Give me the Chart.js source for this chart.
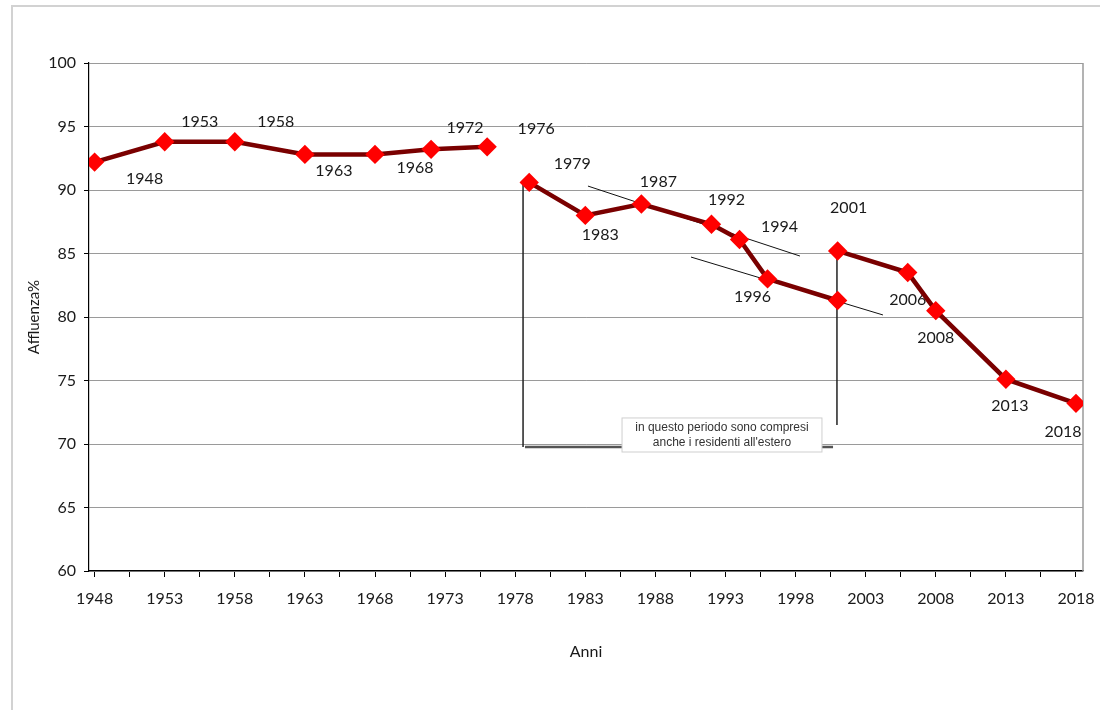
<!DOCTYPE html>
<html>
<head>
<meta charset="utf-8">
<script src="https://cdn.jsdelivr.net/npm/chart.js@4.4.1/dist/chart.umd.min.js"></script>
<style>
  html, body { margin: 0; padding: 0; background: #fff; }
  #wrap { position: relative; width: 1100px; height: 710px; overflow: hidden; }
  #frame { position: absolute; left: 11px; top: 5px; width: 1100px; height: 720px;
           border-top: 2px solid #d2d2d2; border-left: 2px solid #d2d2d2; }
  canvas { position: absolute; left: 0; top: 0; }
</style>
</head>
<body>
<div id="wrap">
  <div id="frame"></div>
  <canvas id="chart" width="1100" height="710"></canvas>
</div>
<script>
// affluenza alle elezioni politiche (Camera), in %
const years1 = [1948, 1953, 1958, 1963, 1968, 1972, 1976]
const turnout1 = [92.2, 93.8, 93.8, 92.8, 92.8, 93.2, 93.4]

const years2 = [1979, 1983, 1987, 1992, 1994, 1996, 2001]
const turnout2 = [90.6, 88.0, 88.9, 87.3, 86.1, 83.0, 81.3]

const years3 = [2001, 2006, 2008, 2013, 2018]
const turnout3 = [85.2, 83.5, 80.5, 75.1, 73.2]

const xTickYears = [1948, 1953, 1958, 1963, 1968, 1973, 1978, 1983, 1988, 1993, 1998, 2003, 2008, 2013, 2018]
const yTickValues = [60, 65, 70, 75, 80, 85, 90, 95, 100]

// label offsets in px for each point (null = no label)
const labelOffsets1 = [[50, 17], [35, -20], [41, -20], [29, 16], [40, 13], [34, -22], [49, -18]]
const labelOffsets2 = [[43, -19], [15, 19], [17, -22], [15, -24], [40, -13], [-15, 18], null]
const labelOffsets3 = [[11, -43], [0, 27], [0, 27], [4, 27], [-13, 28]]

// guide lines drawn on the plot (data units)
const guideLines = [
  { from: [1978.56, 90.4], to: [1978.56, 69.76], width: 1.5, color: "#222" },
  { from: [1978.7, 69.76], to: [2000.67, 69.76], width: 2.5, color: "#555" },
  { from: [2000.95, 84.65], to: [2000.95, 71.5], width: 1.5, color: "#222" },
  { from: [1983.19, 90.31], to: [1998.31, 84.8], width: 1, color: "#111" },
  { from: [1990.54, 84.72], to: [2004.23, 80.16], width: 1, color: "#111" },
]
const noteBox = { x1: 1985.62, x2: 1999.88, y1: 72.05, y2: 69.37,
  lines: ["in questo periodo sono compresi", "anche i residenti all'estero"] }

const lineColor = "#7a0000"
const markerColor = "#ff0000"

function toPoints(xs, ys) {
  return xs.map((x, i) => ({ x: x, y: ys[i] }))
}

function makeDataset(xs, ys, offsets) {
  return {
    data: toPoints(xs, ys),
    labelOffsets: offsets,
    borderColor: lineColor,
    borderWidth: 4.5,
    backgroundColor: markerColor,
    pointBackgroundColor: markerColor,
    pointBorderColor: markerColor,
    pointStyle: "rectRot",
    pointRadius: 6.5,
    tension: 0,
    fill: false,
  }
}

const extrasPlugin = {
  id: "extras",
  beforeDatasetsDraw(chart) {
    const ctx = chart.ctx
    const xs = chart.scales.x
    const ys = chart.scales.y
    const area = chart.chartArea

    ctx.save()
    // right border of the plot
    ctx.strokeStyle = "#9a9a9a"
    ctx.lineWidth = 1.5
    ctx.beginPath()
    ctx.moveTo(area.right, area.top)
    ctx.lineTo(area.right, area.bottom)
    ctx.stroke()

    guideLines.forEach((g) => {
      ctx.strokeStyle = g.color
      ctx.lineWidth = g.width
      ctx.beginPath()
      ctx.moveTo(xs.getPixelForValue(g.from[0]), ys.getPixelForValue(g.from[1]))
      ctx.lineTo(xs.getPixelForValue(g.to[0]), ys.getPixelForValue(g.to[1]))
      ctx.stroke()
    })

    // note box
    const bx1 = xs.getPixelForValue(noteBox.x1)
    const bx2 = xs.getPixelForValue(noteBox.x2)
    const by1 = ys.getPixelForValue(noteBox.y1)
    const by2 = ys.getPixelForValue(noteBox.y2)
    ctx.fillStyle = "#fff"
    ctx.fillRect(bx1, by1, bx2 - bx1, by2 - by1)
    ctx.strokeStyle = "#cfcfcf"
    ctx.lineWidth = 1
    ctx.strokeRect(bx1, by1, bx2 - bx1, by2 - by1)
    ctx.fillStyle = "#333"
    ctx.font = "12px 'Liberation Sans', Arial, sans-serif"
    ctx.textAlign = "center"
    ctx.textBaseline = "middle"
    const cx = (bx1 + bx2) / 2
    ctx.fillText(noteBox.lines[0], cx, by1 + 10)
    ctx.fillText(noteBox.lines[1], cx, by1 + 25)

    // year labels next to the points
    ctx.font = "16px Lato, 'Open Sans', sans-serif"
    ctx.fillStyle = "#1a1a1a"
    chart.data.datasets.forEach((ds, di) => {
      const meta = chart.getDatasetMeta(di)
      meta.data.forEach((pt, i) => {
        const off = ds.labelOffsets[i]
        if (!off) return
        ctx.fillText(String(ds.data[i].x), pt.x + off[0], pt.y + off[1])
      })
    })
    ctx.restore()
  },
}

const ctx = document.getElementById("chart")

new Chart(ctx, {
  type: "line",
  data: {
    datasets: [
      makeDataset(years1, turnout1, labelOffsets1),
      makeDataset(years2, turnout2, labelOffsets2),
      makeDataset(years3, turnout3, labelOffsets3),
    ],
  },
  options: {
    responsive: false,
    animation: false,
    events: [],
    layout: {
      padding: { left: 21, top: 63, right: 17, bottom: 45 },
    },
    plugins: {
      legend: { display: false },
      tooltip: { enabled: false },
    },
    scales: {
      x: {
        type: "linear",
        min: 1947.6,
        max: 2018.5,
        afterBuildTicks: (scale) => {
          const ticks = []
          xTickYears.forEach((v) => {
            ticks.push({ value: v })
            if (v + 2.5 < 2018.5) ticks.push({ value: v + 2.5 })
          })
          scale.ticks = ticks
        },
        afterFit: (scale) => {
          scale.height = 94
          scale.paddingRight = 0
          scale.paddingLeft = 0
        },
        ticks: {
          autoSkip: false,
          maxRotation: 0,
          padding: 12,
          color: "#1a1a1a",
          font: { family: "Lato, 'Open Sans', sans-serif", size: 16 },
          callback: (v) => (xTickYears.includes(v) ? String(v) : ""),
        },
        grid: {
          drawOnChartArea: false,
          drawTicks: true,
          tickLength: 6,
          tickColor: "#000",
        },
        border: { display: true, color: "#000", width: 1.2 },
        title: {
          display: true,
          text: "Anni",
          color: "#1a1a1a",
          font: { family: "Lato, 'Open Sans', sans-serif", size: 16 },
        },
      },
      y: {
        min: 60,
        max: 100,
        afterBuildTicks: (scale) => {
          scale.ticks = yTickValues.map((v) => ({ value: v }))
        },
        afterFit: (scale) => {
          scale.width = 68
        },
        ticks: {
          padding: 8,
          color: "#1a1a1a",
          font: { family: "Lato, 'Open Sans', sans-serif", size: 16 },
        },
        grid: {
          color: "#9a9a9a",
          lineWidth: 1,
          tickColor: "#000",
          tickLength: 5,
        },
        border: { display: true, color: "#000", width: 1.2 },
        title: {
          display: true,
          text: "Affluenza%",
          color: "#1a1a1a",
          font: { family: "Lato, 'Open Sans', sans-serif", size: 15 },
        },
      },
    },
  },
  plugins: [extrasPlugin],
})
</script>
</body>
</html>
